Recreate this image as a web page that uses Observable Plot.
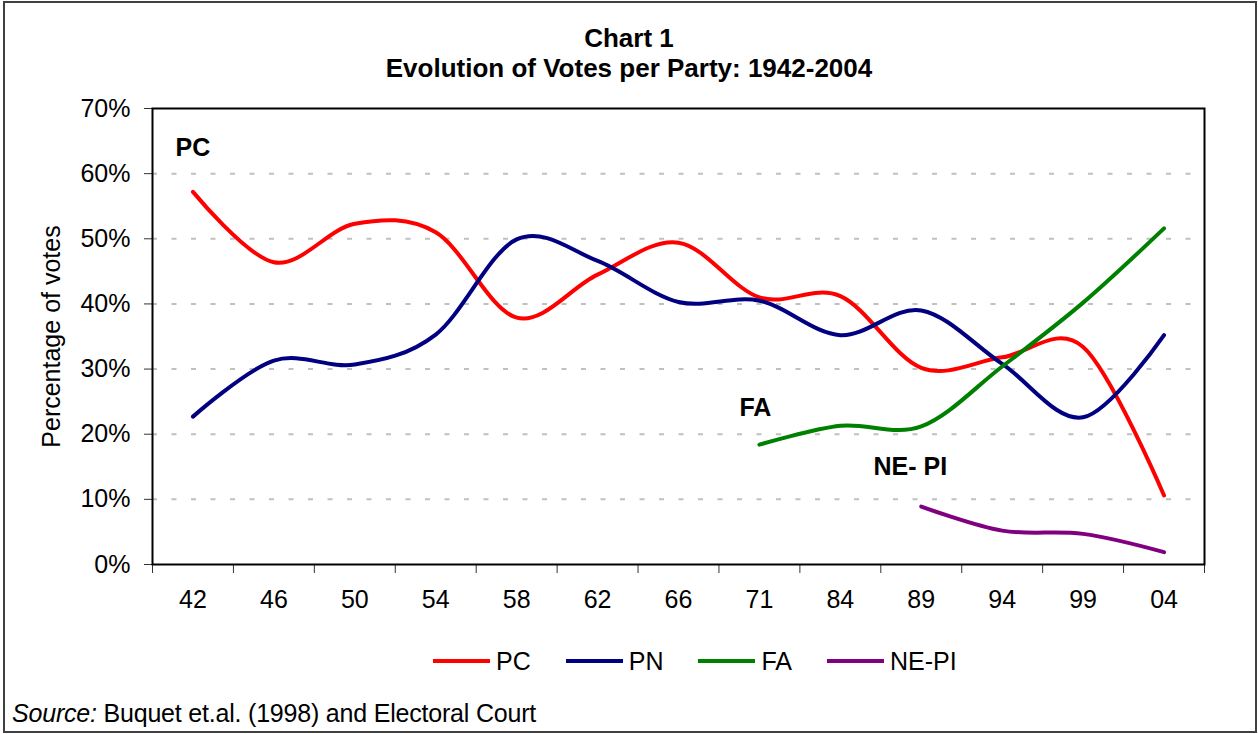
<!DOCTYPE html>
<html><head><meta charset="utf-8">
<script src="https://cdn.jsdelivr.net/npm/d3@7"></script>
<script src="https://cdn.jsdelivr.net/npm/@observablehq/plot@0.6"></script>
<style>
body{margin:0;background:#fff;font-family:"Liberation Sans",Arial,sans-serif;color:#000;}
#wrap{position:relative;width:1258px;height:734px;overflow:hidden;background:#fff;}
#border{position:absolute;left:3px;top:1px;width:1254px;height:732px;border:2px solid #404040;box-sizing:border-box;}
#chart{position:absolute;left:0;top:0;}
.title{position:absolute;left:0;width:1258px;text-align:center;font-weight:bold;font-size:26px;line-height:28px;}
#legend{position:absolute;left:433px;top:647px;display:flex;font-size:25px;line-height:28px;}
#legend .item{display:flex;align-items:center;margin-right:35px;}
#legend .sw{display:inline-block;width:57px;height:4px;margin-right:6px;}
#source{position:absolute;left:12px;top:701px;font-size:25px;line-height:25px;white-space:nowrap;letter-spacing:-0.2px;}
</style></head><body>
<div id="wrap">
  <div id="border"></div>
  <div id="chart"></div>
  <div class="title" style="top:24px">Chart 1</div>
  <div class="title" style="top:54px">Evolution of Votes per Party: 1942-2004</div>
  <div id="legend"></div>
  <div id="source"><i>Source:</i> Buquet et.al. (1998) and Electoral Court</div>
</div>
<script>
const years = ["42","46","50","54","58","62","66","71","84","89","94","99","04"];
const pc   = [57.2, 46.4, 52.3, 51.0, 37.9, 44.5, 49.4, 41.0, 41.2, 30.2, 31.8, 33.4, 10.6];
const pn   = [22.7, 31.3, 30.7, 35.3, 49.9, 46.6, 40.3, 40.5, 35.2, 39.0, 30.8, 22.6, 35.2];
const fa   = [null, null, null, null, null, null, null, 18.4, 21.3, 21.2, 30.4, 40.2, 51.6];
const nepi = [null, null, null, null, null, null, null, null, null, 8.9, 5.2, 4.7, 1.9];
const parties = ["PC", "PN", "FA", "NE-PI"];
const colors = ["#ff0000", "#000080", "#008000", "#800080"];
const yTicks = [0, 10, 20, 30, 40, 50, 60, 70];
const noteLabels = ["PC", "FA", "NE- PI"];
const noteYears = ["42", "71", "89"];
const noteValues = [64, 24.1, 14.9];

const series = [pc, pn, fa, nepi];
const rows = [];
parties.forEach((p, k) => series[k].forEach((v, i) => { if (v != null) rows.push({party: p, i, v}); }));

const notes = noteLabels.map((label, k) => ({label, i: years.indexOf(noteYears[k]), v: noteValues[k]}));
const noteShift = [0, -4, -11];

const plot = Plot.plot({
  width: 1258, height: 734,
  marginLeft: 152, marginRight: 54, marginTop: 108, marginBottom: 170,
  style: {background: "transparent", fontFamily: "Liberation Sans, Arial, sans-serif", fontSize: "25px", color: "#000"},
  x: {type: "linear", domain: [-0.5, years.length - 0.5]},
  y: {domain: [0, 70]},
  color: {domain: parties, range: colors},
  marks: [
    Plot.gridY(yTicks.slice(1, -1), {stroke: "#c0c0c0", strokeOpacity: 1, strokeWidth: 2, strokeDasharray: "5,14.5"}),
    Plot.axisY({ticks: yTicks, tickSize: 8, tickPadding: 14, tickFormat: d => d + "%", stroke: "#333",
      label: "Percentage of votes", labelAnchor: "center", labelOffset: 110, labelArrow: "none"}),
    Plot.axisX({ticks: d3.range(-0.5, years.length, 1), tickSize: 9, tickFormat: () => "", label: null, stroke: "#333"}),
    Plot.axisX({ticks: d3.range(years.length), tickSize: 0, tickPadding: 26, tickFormat: i => years[i], label: null}),
    Plot.line(rows, {x: "i", y: "v", z: "party", stroke: "party", strokeWidth: 4, curve: "cardinal", tension: 0, strokeLinejoin: "round"}),
    ...notes.map((n, k) => Plot.text([n], {x: "i", y: "v", text: "label", fontWeight: "bold", fontSize: 25, dx: noteShift[k]})),
    Plot.frame({stroke: "#000", strokeWidth: 2})
  ]
});
document.getElementById("chart").appendChild(plot);

const legend = document.getElementById("legend");
parties.forEach((p, k) => {
  const item = document.createElement("span");
  item.className = "item";
  const sw = document.createElement("span");
  sw.className = "sw";
  sw.style.background = colors[k];
  item.appendChild(sw);
  item.appendChild(document.createTextNode(p));
  legend.appendChild(item);
});
</script>
</body></html>
